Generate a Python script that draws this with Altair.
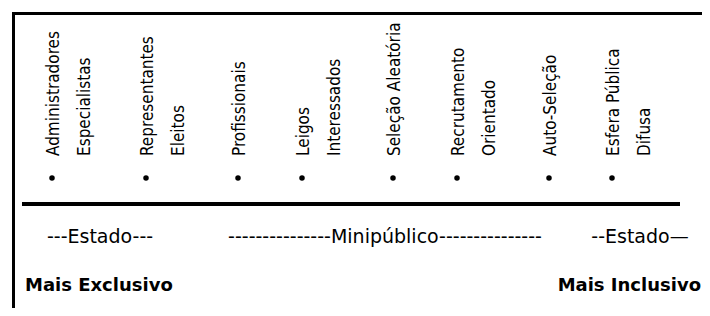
import altair as alt
import pandas as pd

# ---- data ----
linha1 = ["Administradores", "Representantes", "Profissionais", "Leigos",
          "Seleção Aleatória", "Recrutamento", "Auto-Seleção", "Esfera Pública"]
linha2 = ["Especialistas", "Eleitos", "", "Interessados",
          "", "Orientado", "", "Difusa"]
posicao = [52, 146, 238, 302, 393, 457, 549, 612]

grupos = ["---Estado---", "---------------Minipúblico---------------", "--Estado\u2014"]
grupos_pos = [100, 385, 640]

extremos = ["Mais Exclusivo", "Mais Inclusivo"]
extremos_pos = [25, 701]
extremos_align = ["left", "right"]

# ---- layout ----
W, H = 694, 300
xs = alt.Scale(domain=[8, 8 + W], nice=False, zero=False)
ys = alt.Scale(domain=[8, 8 + H], nice=False, zero=False, reverse=True)

itens = pd.DataFrame({"x": posicao, "l1": linha1, "l2": linha2,
                      "yb": 178, "yt": 156})
itens["x1"] = itens["x"] + 2

X = lambda f: alt.X(f, scale=xs, axis=None)
Y = lambda f: alt.Y(f, scale=ys, axis=None)

font_rot = "DejaVu Sans Condensed, Liberation Sans Narrow, DejaVu Sans"

bullets = alt.Chart(itens).mark_point(filled=True, shape="circle", size=30,
                                      color="black", opacity=1).encode(
    x=X("x:Q"), y=Y("yb:Q"))

txt1 = alt.Chart(itens).mark_text(angle=270, align="left", baseline="middle",
                                  font=font_rot, fontSize=17, color="black").encode(
    x=X("x1:Q"), y=Y("yt:Q"), text="l1:N")
txt2 = alt.Chart(itens).mark_text(angle=270, align="left", baseline="middle", dy=31,
                                  font=font_rot, fontSize=17, color="black").encode(
    x=X("x1:Q"), y=Y("yt:Q"), text="l2:N")

bordas = pd.DataFrame({"x": [12, 13.5], "x2": [8 + W, 13.5],
                       "y": [13.5, 12], "y2": [13.5, 8 + H]})
box = alt.Chart(bordas).mark_rule(color="black", strokeWidth=3).encode(
    x=X("x:Q"), x2="x2:Q", y=Y("y:Q"), y2="y2:Q")

linha = pd.DataFrame({"x": [22], "x2": [680], "y": [204]})
eixo = alt.Chart(linha).mark_rule(color="black", strokeWidth=4).encode(
    x=X("x:Q"), x2="x2:Q", y=Y("y:Q"))

gdf = pd.DataFrame({"x": grupos_pos, "t": grupos, "y": 243})
gtxt = alt.Chart(gdf).mark_text(align="center", baseline="alphabetic",
                                font="DejaVu Sans", fontSize=19, color="black").encode(
    x=X("x:Q"), y=Y("y:Q"), text="t:N")

edf = pd.DataFrame({"x": extremos_pos, "t": extremos, "y": 291, "a": extremos_align})
etxt_l = alt.Chart(edf[edf.a == "left"]).mark_text(
    align="left", baseline="alphabetic", font="DejaVu Sans", fontWeight="bold",
    fontSize=18, color="black").encode(x=X("x:Q"), y=Y("y:Q"), text="t:N")
etxt_r = alt.Chart(edf[edf.a == "right"]).mark_text(
    align="right", baseline="alphabetic", font="DejaVu Sans", fontWeight="bold",
    fontSize=18, color="black").encode(x=X("x:Q"), y=Y("y:Q"), text="t:N")

chart = alt.layer(box, eixo, bullets, txt1, txt2, gtxt, etxt_l, etxt_r).properties(
    width=W, height=H, padding=0, autosize=alt.AutoSizeParams(type="none"),
    background="white"
).configure_view(stroke=None)

chart.save("out.html", embed_options={"renderer": "svg", "actions": False})
